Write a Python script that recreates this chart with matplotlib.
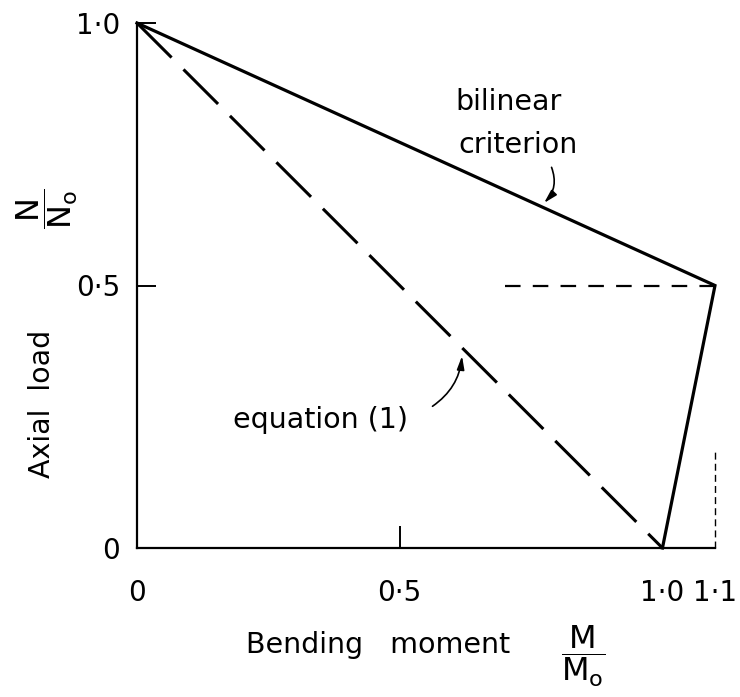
import matplotlib
matplotlib.use("Agg")
import matplotlib.pyplot as plt

plt.rcParams['font.family'] = ['DejaVu Sans']
plt.rcParams['mathtext.fontset'] = 'dejavusans'

# Interaction diagram data (normalised moment M/Mo, axial load N/No)
bilinear_m = [0.0, 1.1, 1.0]
bilinear_n = [1.0, 0.5, 0.0]
eq1_m = [0.0, 1.0]
eq1_n = [1.0, 0.0]
guide_h_m = [0.70, 1.1]
guide_h_n = [0.5, 0.5]
guide_v_m = [1.1, 1.1]
guide_v_n = [0.0, 0.19]

x_ticks = [0.0, 0.5, 1.0, 1.1]
x_labels = ["0", "0·5", "1·0", "1·1"]
y_ticks = [0.0, 0.5, 1.0]
y_labels = ["0", "0·5", "1·0"]

W, H = 740, 697
fig = plt.figure(figsize=(W / 100, H / 100), dpi=100)
ax = fig.add_axes([137 / W, (H - 548) / H, (715 - 137) / W, 525 / H])
ax.set_xlim(0, 1.1)
ax.set_ylim(0, 1.0)

for s in ("top", "right"):
    ax.spines[s].set_visible(False)
for s in ("left", "bottom"):
    ax.spines[s].set_linewidth(1.6)
    ax.spines[s].set_color("black")

# curves
ax.plot(bilinear_m, bilinear_n, color="black", lw=2.3, clip_on=False,
        solid_joinstyle="miter")
ax.plot(eq1_m, eq1_n, color="black", lw=2.2, dashes=(16, 5.5), clip_on=False)
ax.plot(guide_h_m, guide_h_n, color="black", lw=1.6, dashes=(7, 5.5), clip_on=False)
ax.plot(guide_v_m, guide_v_n, color="black", lw=1.0, dashes=(5, 3), clip_on=False)

# tick labels without marks; short inward marks drawn as minor ticks
fs = 20
ax.xaxis.remove_overlapping_locs = False
ax.yaxis.remove_overlapping_locs = False
ax.set_xticks(x_ticks)
ax.set_xticklabels(x_labels, fontsize=fs)
ax.set_yticks(y_ticks)
ax.set_yticklabels(y_labels, fontsize=fs)
ax.tick_params(axis="x", which="major", length=0, pad=22)
ax.tick_params(axis="y", which="major", length=0, pad=12)
ax.set_xticks([0.5], minor=True)
ax.set_yticks([0.5, 1.0], minor=True)
ax.tick_params(axis="x", which="minor", direction="in", length=16, width=1.4)
ax.tick_params(axis="y", which="minor", direction="in", length=14, width=1.4)

# annotations
afs = 20.5
tip_m = 0.771
tip_n = 1.0 - 0.5 * tip_m / 1.1
ax.text(0.606, 0.850, "bilinear", fontsize=afs, ha="left", va="center")
ax.text(0.611, 0.768, "criterion", fontsize=afs, ha="left", va="center")
ax.annotate("", xy=(tip_m, tip_n + 0.004), xytext=(0.787, 0.730),
            arrowprops=dict(arrowstyle="-|>,head_length=0.8,head_width=0.22",
                            color="black", lw=1.2,
                            connectionstyle="arc3,rad=-0.35"))

tip2_m = 0.619
ax.text(0.183, 0.244, "equation (1)", fontsize=afs, ha="left", va="center")
ax.annotate("", xy=(tip2_m, 1.0 - tip2_m - 0.01), xytext=(0.558, 0.267),
            arrowprops=dict(arrowstyle="-|>,head_length=0.8,head_width=0.22",
                            color="black", lw=1.2,
                            connectionstyle="arc3,rad=0.25"))

# axis titles
fig.text(42 / W, 1 - 404 / H, "Axial  load", rotation=90, fontsize=afs,
         ha="center", va="center")
fig.text(47 / W, 1 - 209 / H, r"$\dfrac{\mathrm{N}}{\mathrm{N_o}}$", rotation=90,
         fontsize=23, ha="center", va="center")
fig.text(378 / W, 1 - 645 / H, "Bending   moment", fontsize=afs,
         ha="center", va="center")
fig.text(583 / W, 1 - 656 / H, r"$\dfrac{\mathrm{M}}{\mathrm{M_o}}$",
         fontsize=23, ha="center", va="center")

fig.savefig("out.png", dpi=100)
